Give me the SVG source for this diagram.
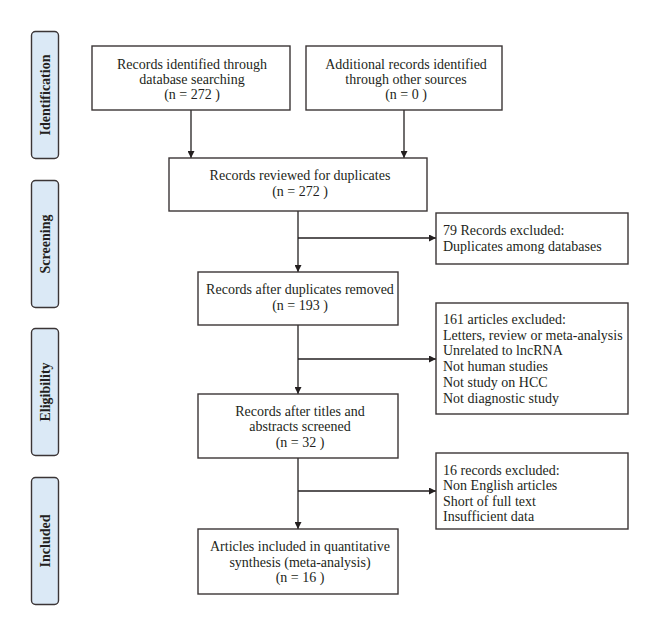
<svg xmlns="http://www.w3.org/2000/svg" width="660" height="636" viewBox="0 0 660 636">
<defs>
<marker id="ah" viewBox="0 0 10 10" refX="10" refY="5" markerWidth="7" markerHeight="7" markerUnits="userSpaceOnUse" orient="auto">
<path d="M0,0 L10,5 L0,10 z" fill="#231f20"/>
</marker>
</defs>
<style>
.box{fill:#fff;stroke:#3b3536;stroke-width:1.4}
.side{fill:#dbe9f6;stroke:#3b3536;stroke-width:1.4}
.t{font-family:"Liberation Serif","Times New Roman",serif;font-size:14px;fill:#231f20}
.c{text-anchor:middle}
.s{font-family:"Liberation Serif","Times New Roman",serif;font-size:14px;font-weight:bold;fill:#231f20;text-anchor:middle}
.ln{stroke:#231f20;stroke-width:1.3;fill:none}
</style>
<rect width="660" height="636" fill="#fff"/>
<g id="stage-identification">
<rect class="side" x="31.5" y="31.5" width="27" height="127" rx="4"/>
<text class="s" transform="translate(50,95) rotate(-90)">Identification</text>
</g>
<g id="stage-screening">
<rect class="side" x="31.5" y="180.5" width="27" height="127" rx="4"/>
<text class="s" transform="translate(50,244) rotate(-90)">Screening</text>
</g>
<g id="stage-eligibility">
<rect class="side" x="31.5" y="328.5" width="27" height="127" rx="4"/>
<text class="s" transform="translate(50,392) rotate(-90)">Eligibility</text>
</g>
<g id="stage-included">
<rect class="side" x="31.5" y="477.5" width="27" height="127" rx="4"/>
<text class="s" transform="translate(50,541) rotate(-90)">Included</text>
</g>
<g id="connectors">
<line class="ln" x1="191" y1="110" x2="191" y2="158" marker-end="url(#ah)"/>
<line class="ln" x1="404" y1="110" x2="404" y2="158" marker-end="url(#ah)"/>
<line class="ln" x1="298" y1="211" x2="298" y2="272" marker-end="url(#ah)"/>
<line class="ln" x1="298" y1="238" x2="436" y2="238" marker-end="url(#ah)"/>
<line class="ln" x1="298" y1="325" x2="298" y2="394" marker-end="url(#ah)"/>
<line class="ln" x1="298" y1="359" x2="436" y2="359" marker-end="url(#ah)"/>
<line class="ln" x1="298" y1="458" x2="298" y2="529" marker-end="url(#ah)"/>
<line class="ln" x1="298" y1="491" x2="436" y2="491" marker-end="url(#ah)"/>
</g>
<g id="n-database">
<rect class="box" x="92" y="46" width="198" height="64"/>
<text class="t c" x="192" y="69">Records identified through</text>
<text class="t c" x="192" y="84">database searching</text>
<text class="t c" x="192" y="99">(n = 272 )</text>
</g>
<g id="n-other">
<rect class="box" x="306" y="46" width="196" height="64"/>
<text class="t c" x="406" y="69">Additional records identified</text>
<text class="t c" x="406" y="84">through other sources</text>
<text class="t c" x="406" y="99">(n = 0 )</text>
</g>
<g id="n-reviewed">
<rect class="box" x="169" y="158" width="258" height="53"/>
<text class="t c" x="300" y="180">Records reviewed for duplicates</text>
<text class="t c" x="300" y="196">(n = 272 )</text>
</g>
<g id="n-excl1">
<rect class="box" x="436" y="213" width="192" height="51"/>
<text class="t" x="443" y="235">79 Records excluded:</text>
<text class="t" x="443" y="251">Duplicates among databases</text>
</g>
<g id="n-dedup">
<rect class="box" x="198" y="272" width="200" height="53"/>
<text class="t c" x="300" y="294">Records after duplicates removed</text>
<text class="t c" x="300" y="310">(n = 193 )</text>
</g>
<g id="n-excl2">
<rect class="box" x="436" y="303" width="192" height="111"/>
<text class="t" x="443" y="324">161 articles excluded:</text>
<text class="t" x="443" y="340">Letters, review or meta-analysis</text>
<text class="t" x="443" y="355">Unrelated to lncRNA</text>
<text class="t" x="443" y="371">Not human studies</text>
<text class="t" x="443" y="387">Not study on HCC</text>
<text class="t" x="443" y="403">Not diagnostic study</text>
</g>
<g id="n-screened">
<rect class="box" x="198" y="394" width="200" height="64"/>
<text class="t c" x="300" y="416">Records after titles and</text>
<text class="t c" x="300" y="431">abstracts screened</text>
<text class="t c" x="300" y="447">(n = 32 )</text>
</g>
<g id="n-excl3">
<rect class="box" x="436" y="453" width="192" height="76"/>
<text class="t" x="443" y="475">16 records excluded:</text>
<text class="t" x="443" y="490">Non English articles</text>
<text class="t" x="443" y="506">Short of full text</text>
<text class="t" x="443" y="521">Insufficient data</text>
</g>
<g id="n-included">
<rect class="box" x="198" y="529" width="200" height="65"/>
<text class="t c" x="300" y="551">Articles included in quantitative</text>
<text class="t c" x="300" y="567">synthesis (meta-analysis)</text>
<text class="t c" x="300" y="582">(n = 16 )</text>
</g>
</svg>
